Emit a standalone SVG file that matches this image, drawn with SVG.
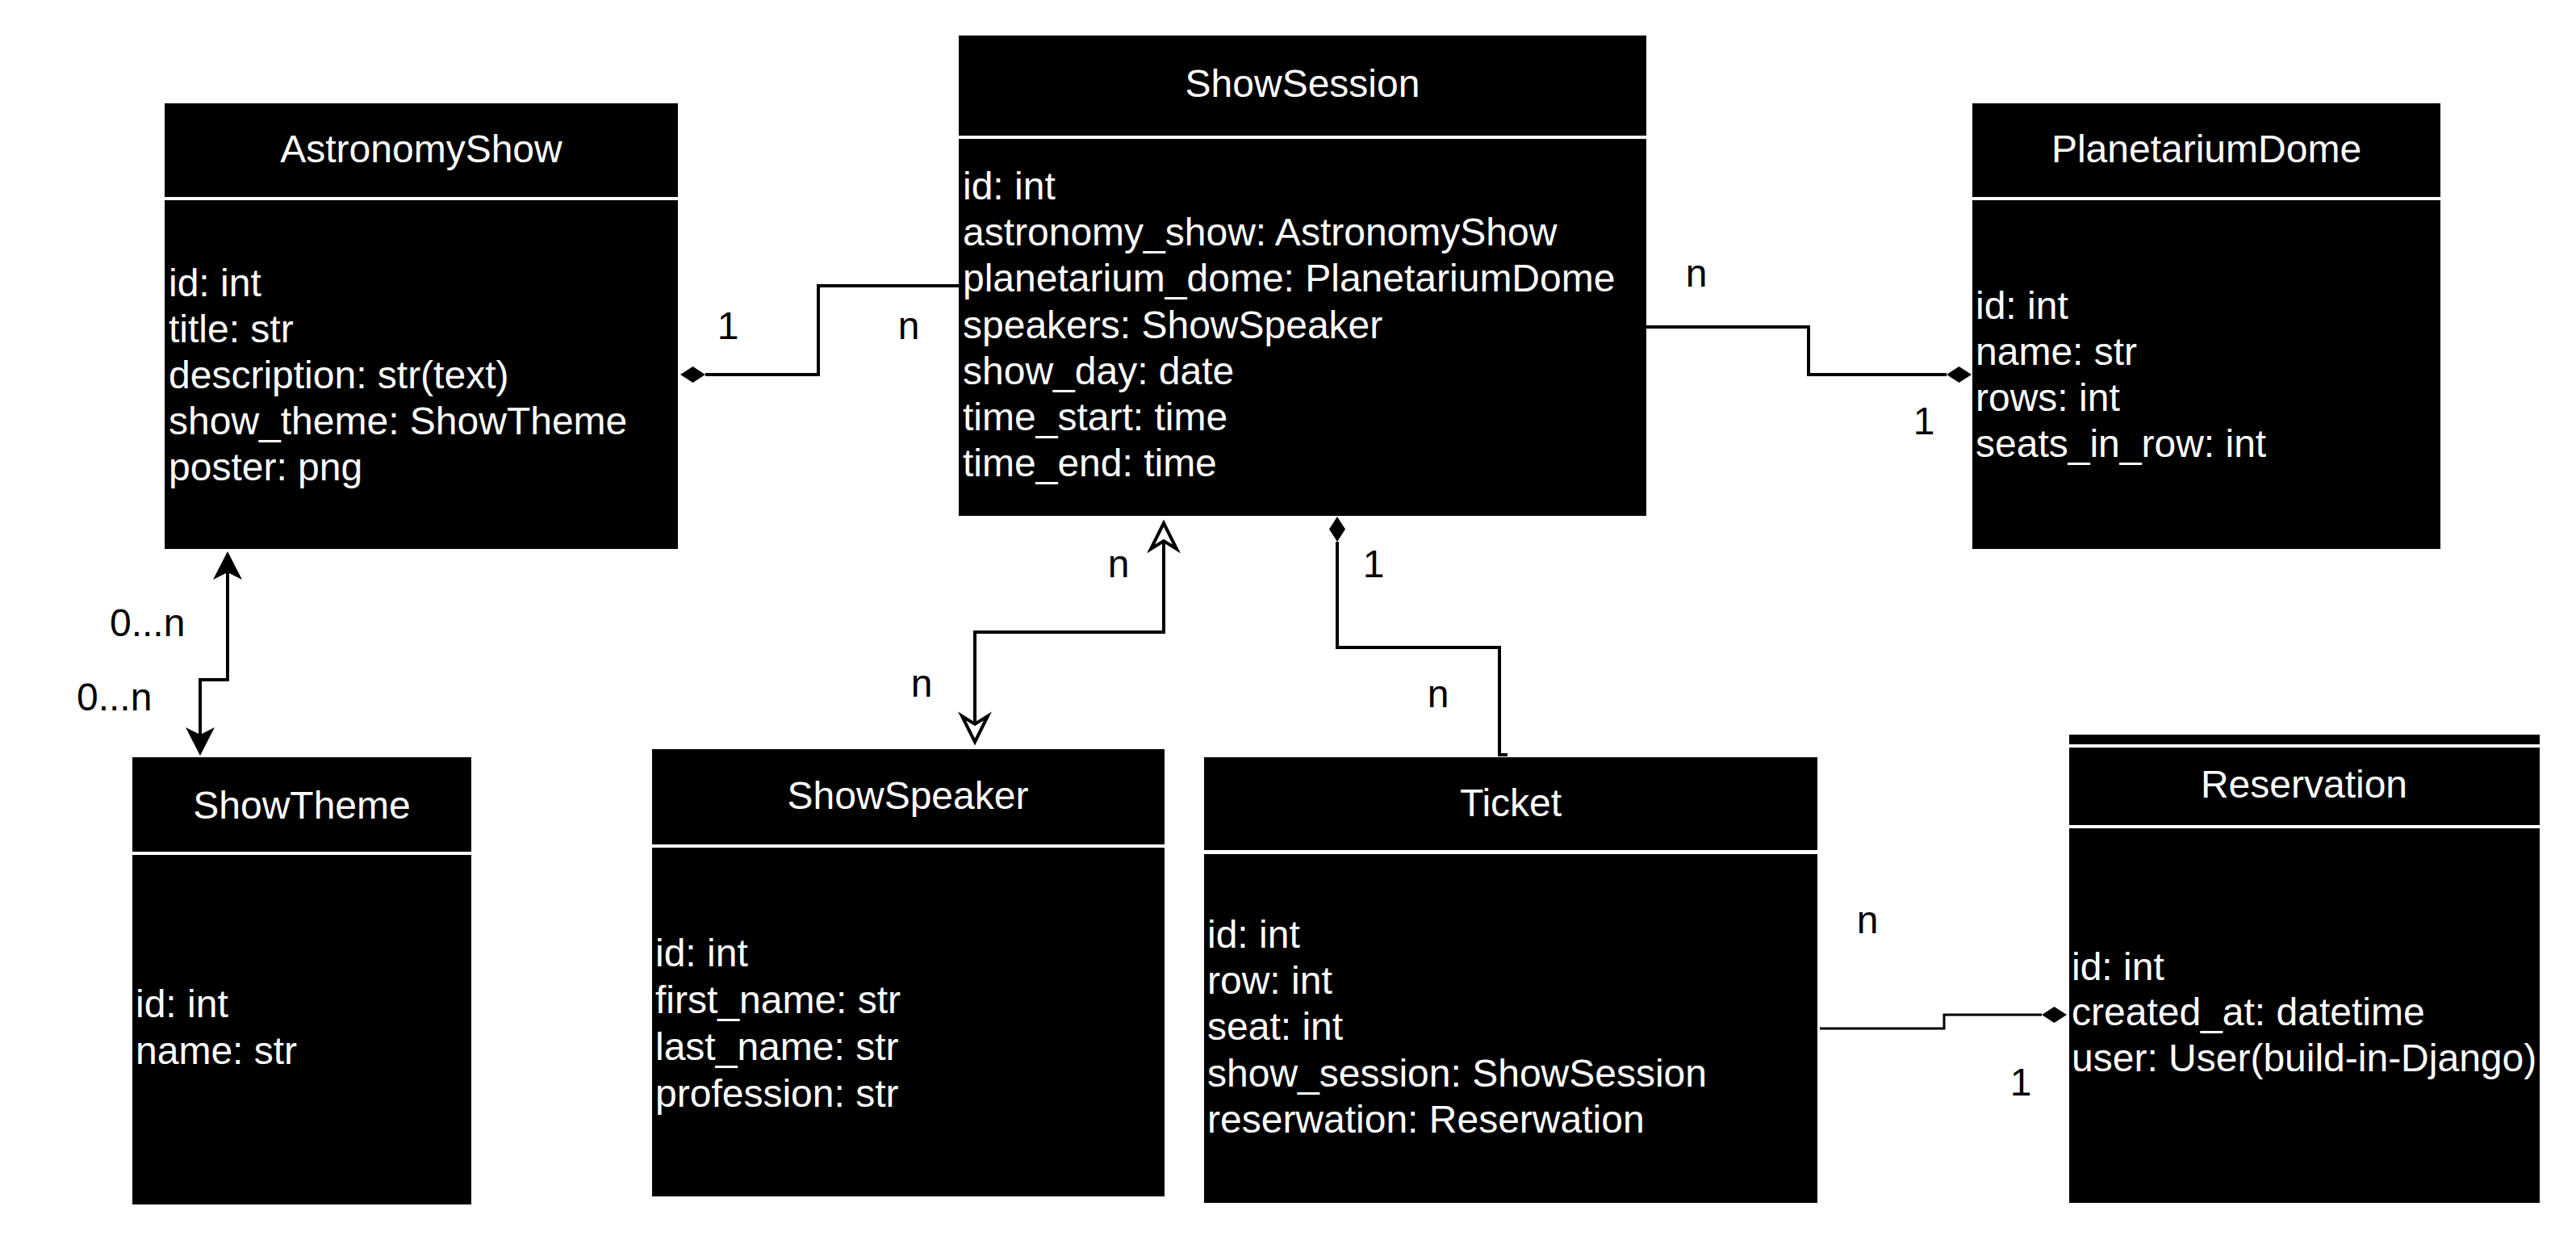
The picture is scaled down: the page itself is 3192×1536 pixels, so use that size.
<svg xmlns="http://www.w3.org/2000/svg" width="3192" height="1536" viewBox="0 0 3192 1536">
<style>
.box{fill:#000}
.t{fill:#fff;font-family:"Liberation Sans",Arial,sans-serif;font-size:48px}
.title{text-anchor:middle}
.lbl{fill:#000;font-family:"Liberation Sans",Arial,sans-serif;font-size:48px}
.mid{text-anchor:middle}
.conn{fill:none;stroke:#000;stroke-width:4}
</style>
<defs>
<marker id="diamond" markerUnits="userSpaceOnUse" viewBox="-2 -12 36 24" refX="0" refY="0" markerWidth="36" markerHeight="24" orient="auto" overflow="visible">
<path d="M31,0 L15.5,-10 L0,0 L15.5,10 Z" fill="#000"/>
</marker>
<marker id="arrow" markerUnits="userSpaceOnUse" viewBox="-12 -20 40 40" refX="0" refY="0" markerWidth="40" markerHeight="40" orient="auto-start-reverse" overflow="visible">
<path d="M26,0 L-9,-18 L0,0 L-9,18 Z" fill="#000"/>
</marker>
<marker id="hollow" markerUnits="userSpaceOnUse" viewBox="-14 -22 42 44" refX="0" refY="0" markerWidth="42" markerHeight="44" orient="auto-start-reverse" overflow="visible">
<path d="M22,0 L-10,-16 L0,0 L-10,16 Z" fill="#fff" stroke="#000" stroke-width="4" stroke-linejoin="miter"/>
</marker>
</defs>
<rect x="0" y="0" width="3192" height="1536" fill="#fff"/>

<g id="connectors">
<path class="conn" d="M1188,354 H1014 V464 H874" marker-end="url(#diamond)"/>
<path class="conn" d="M2040,405 H2241 V464 H2412" marker-end="url(#diamond)"/>
<path class="conn" d="M282,709 V842 H248 V910" marker-start="url(#arrow)" marker-end="url(#arrow)"/>
<path class="conn" d="M1442,670 V783 H1208 V897" marker-start="url(#hollow)" marker-end="url(#hollow)"/>
<path class="conn" d="M1868,935 H1858 V802 H1657 V671" marker-end="url(#diamond)"/>
<path class="conn" style="stroke-width:3" d="M2255,1274 H2409 V1257 H2530" marker-end="url(#diamond)"/>
<text class="lbl mid" x="902" y="420">1</text>
<text class="lbl mid" x="1126" y="420">n</text>
<text class="lbl mid" x="2102" y="355">n</text>
<text class="lbl mid" x="2384" y="538">1</text>
<text class="lbl" x="136" y="788">0...n</text>
<text class="lbl" x="95" y="880">0...n</text>
<text class="lbl mid" x="1386" y="715">n</text>
<text class="lbl mid" x="1142" y="863">n</text>
<text class="lbl mid" x="1702" y="715">1</text>
<text class="lbl mid" x="1782" y="876">n</text>
<text class="lbl mid" x="2314" y="1156">n</text>
<text class="lbl mid" x="2504" y="1357">1</text>
</g>

<g id="AstronomyShow">
<rect class="box" x="204" y="128" width="636" height="116"/>
<rect class="box" x="204" y="248" width="636" height="432"/>
<text class="t title" x="522" y="201">AstronomyShow</text>
<text class="t" x="209" y="367">id: int</text>
<text class="t" x="209" y="424">title: str</text>
<text class="t" x="209" y="481">description: str(text)</text>
<text class="t" x="209" y="538">show_theme: ShowTheme</text>
<text class="t" x="209" y="595">poster: png</text>
</g>

<g id="ShowSession">
<rect class="box" x="1188" y="44" width="852" height="124"/>
<rect class="box" x="1188" y="172" width="852" height="467"/>
<text class="t title" x="1614" y="120">ShowSession</text>
<text class="t" x="1193" y="247">id: int</text>
<text class="t" x="1193" y="304">astronomy_show: AstronomyShow</text>
<text class="t" x="1193" y="361">planetarium_dome: PlanetariumDome</text>
<text class="t" x="1193" y="419">speakers: ShowSpeaker</text>
<text class="t" x="1193" y="476">show_day: date</text>
<text class="t" x="1193" y="533">time_start: time</text>
<text class="t" x="1193" y="590">time_end: time</text>
</g>

<g id="PlanetariumDome">
<rect class="box" x="2444" y="128" width="580" height="116"/>
<rect class="box" x="2444" y="248" width="580" height="432"/>
<text class="t title" x="2734" y="201">PlanetariumDome</text>
<text class="t" x="2448" y="395">id: int</text>
<text class="t" x="2448" y="452">name: str</text>
<text class="t" x="2448" y="509">rows: int</text>
<text class="t" x="2448" y="566">seats_in_row: int</text>
</g>

<g id="ShowTheme">
<rect class="box" x="164" y="938" width="420" height="117"/>
<rect class="box" x="164" y="1059" width="420" height="433"/>
<text class="t title" x="374" y="1014">ShowTheme</text>
<text class="t" x="168" y="1260">id: int</text>
<text class="t" x="168" y="1318">name: str</text>
</g>

<g id="ShowSpeaker">
<rect class="box" x="808" y="928" width="635" height="118"/>
<rect class="box" x="808" y="1050" width="635" height="432"/>
<text class="t title" x="1125" y="1002">ShowSpeaker</text>
<text class="t" x="812" y="1197">id: int</text>
<text class="t" x="812" y="1255">first_name: str</text>
<text class="t" x="812" y="1313">last_name: str</text>
<text class="t" x="812" y="1371">profession: str</text>
</g>

<g id="Ticket">
<rect class="box" x="1492" y="938" width="760" height="115"/>
<rect class="box" x="1492" y="1058" width="760" height="432"/>
<text class="t title" x="1872" y="1011">Ticket</text>
<text class="t" x="1496" y="1174">id: int</text>
<text class="t" x="1496" y="1231">row: int</text>
<text class="t" x="1496" y="1288">seat: int</text>
<text class="t" x="1496" y="1346">show_session: ShowSession</text>
<text class="t" x="1496" y="1403">reserwation: Reserwation</text>
</g>

<g id="Reservation">
<rect class="box" x="2564" y="910" width="583" height="12"/>
<rect class="box" x="2564" y="926" width="583" height="96"/>
<rect class="box" x="2564" y="1026" width="583" height="464"/>
<text class="t title" x="2855" y="988">Reservation</text>
<text class="t" x="2567" y="1214">id: int</text>
<text class="t" x="2567" y="1270">created_at: datetime</text>
<text class="t" x="2567" y="1327">user: User(build-in-Django)</text>
</g>
</svg>
